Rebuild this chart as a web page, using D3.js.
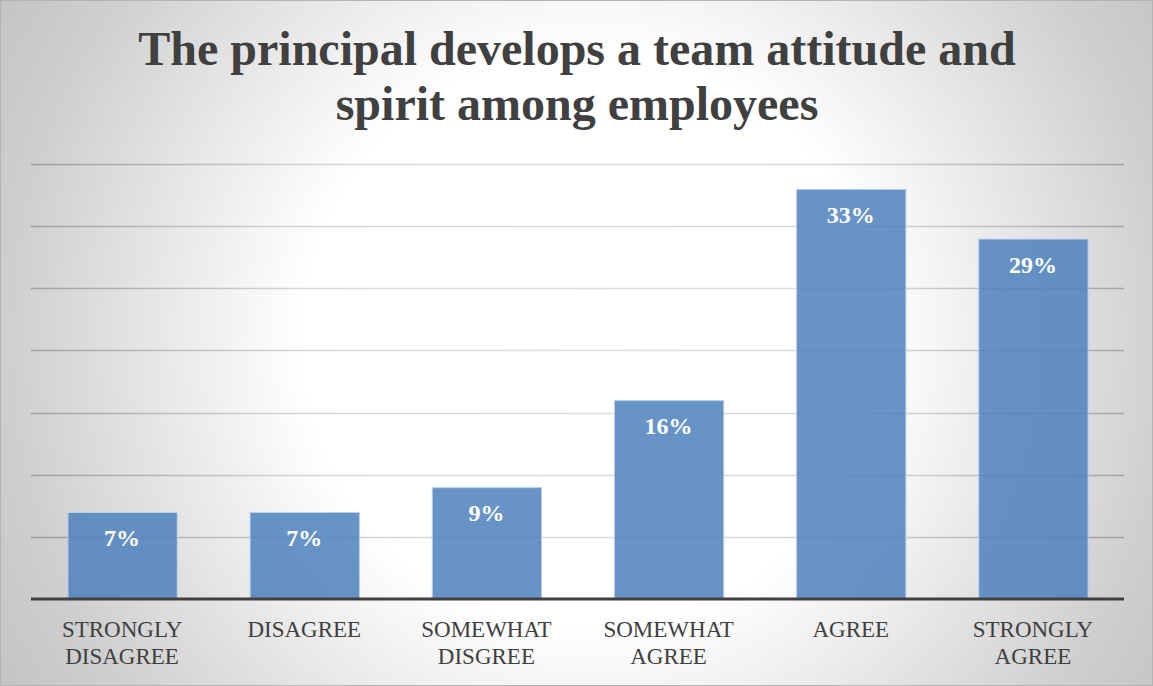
<!DOCTYPE html>
<html>
<head>
<meta charset="utf-8">
<script src="https://cdn.jsdelivr.net/npm/d3@7"></script>
<style>
  html, body { margin: 0; padding: 0; background: #ffffff; }
  svg { display: block; }
</style>
</head>
<body>
<svg id="chart" width="1153" height="686"></svg>
<script>
// Survey responses: share of respondents per answer
const categories = [
  ["STRONGLY", "DISAGREE"],
  ["DISAGREE"],
  ["SOMEWHAT", "DISGREE"],
  ["SOMEWHAT", "AGREE"],
  ["AGREE"],
  ["STRONGLY", "AGREE"]
];
const values = [7, 7, 9, 16, 33, 29];
const gridTicks = [5, 10, 15, 20, 25, 30, 35];
const titleLines = ["The principal develops a team attitude and", "spirit among employees"];

const W = 1153, H = 686;
const margin = { left: 31, right: 29, top: 164, bottom: 87 };
const svg = d3.select("#chart");
const defs = svg.append("defs");

// Soft radial background: bright centre fading to grey edges
const gcx = 590, gcy = 340, gr = 700;
const bg = defs.append("radialGradient")
  .attr("id", "bgGrad").attr("gradientUnits", "userSpaceOnUse")
  .attr("cx", gcx).attr("cy", gcy).attr("r", gr);
[[0, "#ffffff"], [0.41, "#ffffff"], [0.83, "#cfcfcf"], [1, "#c2c2c2"]]
  .forEach(([o, c]) => bg.append("stop").attr("offset", o).attr("stop-color", c));

// Gridlines darken toward the edges along with the background
const gg = defs.append("radialGradient")
  .attr("id", "gridGrad").attr("gradientUnits", "userSpaceOnUse")
  .attr("cx", gcx).attr("cy", gcy).attr("r", gr);
[[0, "#dedede"], [0.41, "#d8d8d8"], [0.83, "#9c9c9c"], [1, "#8c8c8c"]]
  .forEach(([o, c]) => gg.append("stop").attr("offset", o).attr("stop-color", c));

svg.append("rect").attr("x", 0).attr("y", 0).attr("width", W).attr("height", H)
  .attr("fill", "url(#bgGrad)");
svg.append("rect").attr("x", 0.5).attr("y", 0.5).attr("width", W - 1).attr("height", H - 1)
  .attr("fill", "none").attr("stroke", "#b4b4b4").attr("stroke-width", 1);

const x = d3.scaleBand()
  .domain(d3.range(categories.length))
  .range([margin.left, W - margin.right])
  .paddingInner(0.4)
  .paddingOuter(0.2);

const y = d3.scaleLinear()
  .domain([0, 35])
  .range([H - margin.bottom, margin.top]);

// Horizontal gridlines
svg.append("g")
  .selectAll("line")
  .data(gridTicks)
  .join("line")
  .attr("x1", margin.left).attr("x2", W - margin.right)
  .attr("y1", d => Math.round(y(d)) + 0.5).attr("y2", d => Math.round(y(d)) + 0.5)
  .attr("stroke", "url(#gridGrad)").attr("stroke-width", 1.3);

// Bars
svg.append("g")
  .selectAll("rect")
  .data(values)
  .join("rect")
  .attr("x", (d, i) => x(i) + 0.5)
  .attr("y", d => y(d) + 0.5)
  .attr("width", x.bandwidth())
  .attr("height", d => y(0) - y(d))
  .attr("fill", "#4f81bd").attr("fill-opacity", 0.86)
  .attr("stroke", "#bcd0ea").attr("stroke-width", 1);

// Category axis line
const xAxis = d3.axisBottom(x).tickSize(0).tickFormat("");
const axisG = svg.append("g").attr("transform", `translate(0,${y(0)})`).call(xAxis);
axisG.select(".domain").attr("stroke", "#404040").attr("stroke-width", 3.2)
  .attr("d", `M${margin.left},0H${W - margin.right}`);

// Category labels (wrapped onto two lines)
const labelG = svg.append("g")
  .attr("font-family", "'Liberation Serif', 'Times New Roman', serif")
  .attr("font-size", 23).attr("fill", "#404040").attr("text-anchor", "middle");
categories.forEach((lines, i) => {
  const t = labelG.append("text").attr("x", x(i) + x.bandwidth() / 2);
  lines.forEach((ln, j) => {
    t.append("tspan").attr("x", x(i) + x.bandwidth() / 2)
      .attr("y", 637 + j * 27).text(ln);
  });
});

// Value labels inside the bars
svg.append("g")
  .attr("font-family", "'Liberation Serif', 'Times New Roman', serif")
  .attr("font-size", 24).attr("font-weight", "bold").attr("fill", "#ffffff")
  .attr("text-anchor", "middle")
  .selectAll("text")
  .data(values)
  .join("text")
  .attr("x", (d, i) => x(i) + x.bandwidth() / 2)
  .attr("y", d => y(d) + 34)
  .text(d => d + "%");

// Title
const title = svg.append("text")
  .attr("font-family", "'Liberation Serif', 'Times New Roman', serif")
  .attr("font-size", 48).attr("font-weight", "bold").attr("fill", "#404040")
  .attr("text-anchor", "middle");
titleLines.forEach((ln, j) => {
  title.append("tspan").attr("x", 577).attr("y", 65 + j * 55).text(ln);
});
</script>
</body>
</html>
